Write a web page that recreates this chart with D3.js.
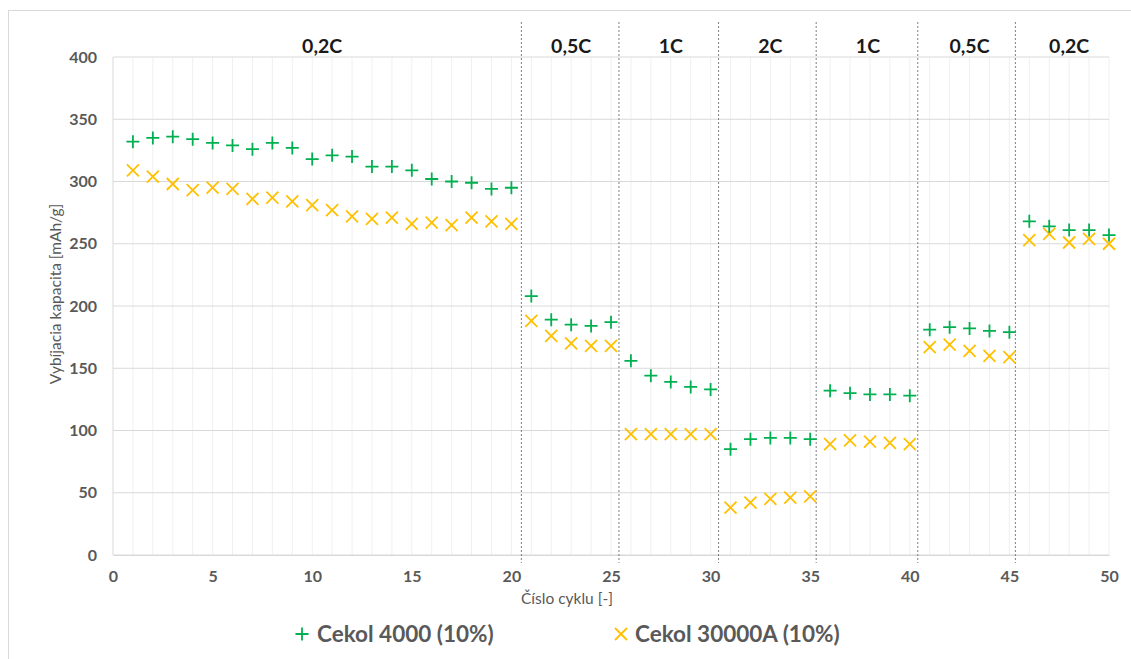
<!DOCTYPE html>
<html><head><meta charset="utf-8">
<script src="https://cdn.jsdelivr.net/npm/d3@7"></script>
<style>
html,body{margin:0;padding:0;background:#fff;}
text{font-family:Lato,"Open Sans",sans-serif;}
</style></head>
<body>
<svg id="chart" width="1131" height="659"></svg>
<script>
const cycles = d3.range(1, 51);
const cekol4000 = [332,335,336,334,331,329,326,331,327,318,321,320,312,312,309,302,300,299,294,295,
  208,189,185,184,187,156,144,139,135,133,85,93,94,94,93,132,130,129,129,128,181,183,182,180,179,268,264,261,261,257];
const cekol30000A = [309,304,298,293,295,294,286,287,284,281,277,272,270,271,266,267,265,271,268,266,
  188,176,170,168,168,97,97,97,97,97,38,42,45,46,47,89,92,91,90,89,167,169,164,160,159,253,258,251,254,250];
const seriesNames = ["Cekol 4000 (10%)", "Cekol 30000A (10%)"];
const xTicks = [0,5,10,15,20,25,30,35,40,45,50];
const yTicks = [0,50,100,150,200,250,300,350,400];
const separators = [20.5,25.4,30.4,35.3,40.4,45.3];
const phaseLabels = ["0,2C","0,5C","1C","2C","1C","0,5C","0,2C"];
const phaseCenters = [10.5,23,28,33,37.9,43,48];

const svg = d3.select("#chart");
const L = 113, R = 1109, T = 57, B = 555;
const x = d3.scaleLinear().domain([0,50]).range([L,R]);
const y = d3.scaleLinear().domain([0,400]).range([B,T]);
const green = "#00b050", yellow = "#ffc000", grey = "#595959";

// outer border
svg.append("rect").attr("x",8.5).attr("y",10.5).attr("width",1140).attr("height",700)
  .attr("fill","none").attr("stroke","#d9d9d9").attr("stroke-width",1);

// minor vertical grid
svg.append("g").selectAll("line").data(d3.range(1,51)).join("line")
  .attr("x1",d=>x(d)).attr("x2",d=>x(d)).attr("y1",T).attr("y2",B)
  .attr("stroke","#f0f0f0").attr("stroke-width",1);
// horizontal grid
svg.append("g").selectAll("line").data(yTicks).join("line")
  .attr("x1",L).attr("x2",R).attr("y1",d=>y(d)).attr("y2",d=>y(d))
  .attr("stroke","#d9d9d9").attr("stroke-width",1);
// left axis line
svg.append("line").attr("x1",L).attr("x2",L).attr("y1",T).attr("y2",B)
  .attr("stroke","#d9d9d9");

// axes
const xAxis = svg.append("g").attr("transform",`translate(0,${B})`)
  .call(d3.axisBottom(x).tickValues(xTicks).tickSize(0).tickPadding(16));
xAxis.select(".domain").attr("stroke","#d9d9d9");
xAxis.selectAll("text").attr("fill",grey).attr("font-size",16).attr("font-weight","bold")
  .style("font-family","Lato, sans-serif");
const yAxis = svg.append("g").attr("transform",`translate(${L},0)`)
  .call(d3.axisLeft(y).tickValues(yTicks).tickSize(0).tickPadding(16));
yAxis.select(".domain").remove();
yAxis.selectAll("text").attr("fill",grey).attr("font-size",16).attr("font-weight","bold")
  .style("font-family","Lato, sans-serif");

// separators
svg.append("g").selectAll("line").data(separators).join("line")
  .attr("x1",d=>x(d)).attr("x2",d=>x(d)).attr("y1",22).attr("y2",563)
  .attr("stroke","#7f7f7f").attr("stroke-width",1).attr("stroke-dasharray","2,2");

// phase labels
svg.append("g").selectAll("text").data(phaseLabels).join("text")
  .attr("x",(d,i)=>x(phaseCenters[i])).attr("y",53).attr("text-anchor","middle")
  .attr("font-size",19.5).attr("font-weight","bold").attr("fill","#1a1a1a").text(d=>d);

// axis titles
svg.append("text").attr("x",567).attr("y",604).attr("text-anchor","middle")
  .attr("font-size",15.5).attr("font-weight","normal").attr("fill",grey).text("Číslo cyklu [-]");
svg.append("text").attr("transform",`translate(61,294) rotate(-90)`)
  .attr("text-anchor","middle").attr("font-size",15.5).attr("font-weight","normal").attr("fill",grey)
  .text("Vybíjacia kapacita [mAh/g]");

const plusPath = s => `M${-s},0H${s}M0,${-s}V${s}`;
const crossPath = s => `M${-s},${-s}L${s},${s}M${-s},${s}L${s},${-s}`;

// series
svg.append("g").selectAll("path").data(cekol30000A).join("path")
  .attr("transform",(d,i)=>`translate(${x(cycles[i])},${y(d)})`)
  .attr("d",crossPath(6)).attr("stroke",yellow).attr("stroke-width",1.8).attr("fill","none");
svg.append("g").selectAll("path").data(cekol4000).join("path")
  .attr("transform",(d,i)=>`translate(${x(cycles[i])},${y(d)})`)
  .attr("d",plusPath(6.5)).attr("stroke",green).attr("stroke-width",1.8).attr("fill","none");

// legend
const lg = svg.append("g");
lg.append("path").attr("transform","translate(302,634)").attr("d",plusPath(6.5))
  .attr("stroke",green).attr("stroke-width",1.8).attr("fill","none");
lg.append("text").attr("x",317).attr("y",642).attr("font-size",22.5).attr("font-weight","bold")
  .attr("fill",grey).text(seriesNames[0]);
lg.append("path").attr("transform","translate(621,634)").attr("d",crossPath(6))
  .attr("stroke",yellow).attr("stroke-width",1.8).attr("fill","none");
lg.append("text").attr("x",635).attr("y",642).attr("font-size",22.5).attr("font-weight","bold")
  .attr("fill",grey).text(seriesNames[1]);
</script>
</body></html>
